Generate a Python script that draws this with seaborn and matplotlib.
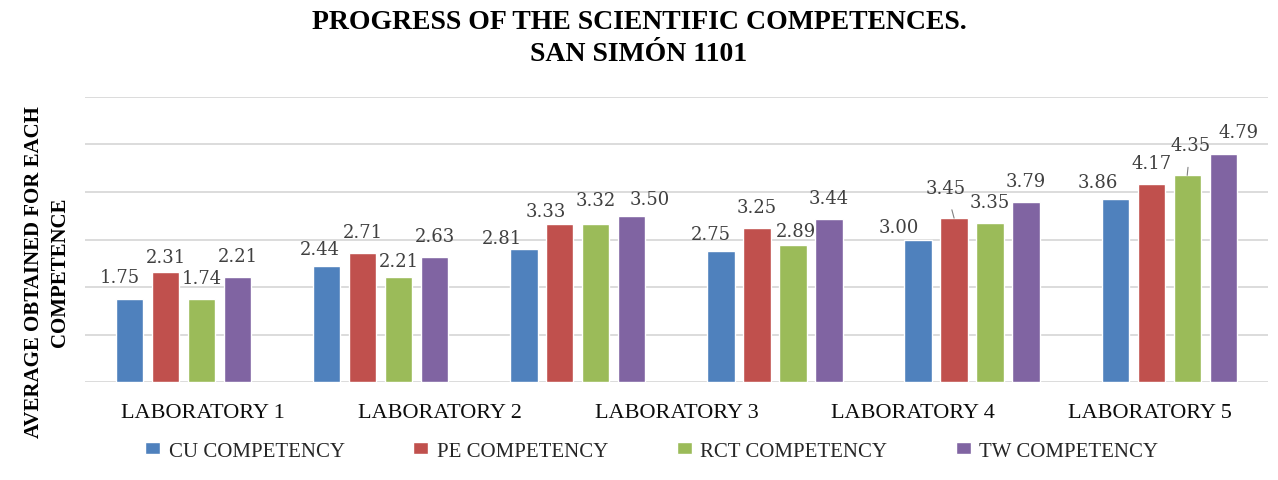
import numpy as np
import pandas as pd
import seaborn as sns
import matplotlib.pyplot as plt

# chart data
groups = [1, 2, 3, 4, 5, 6]
competencies = ['CU COMPETENCY', 'PE COMPETENCY', 'RCT COMPETENCY', 'TW COMPETENCY']
cu = [1.75, 2.44, 2.81, 2.75, 3.00, 3.86]
pe = [2.31, 2.71, 3.33, 3.25, 3.45, 4.17]
rct = [1.74, 2.21, 3.32, 2.89, 3.35, 4.35]
tw = [2.21, 2.63, 3.50, 3.44, 3.79, 4.79]
lab_labels = ['LABORATORY 1', 'LABORATORY 2', 'LABORATORY 3', 'LABORATORY 4', 'LABORATORY 5']

colors = ['#4F81BD', '#C0504D', '#9BBB59', '#8064A2']

df = pd.DataFrame({
    'group': groups * 4,
    'competency': np.repeat(competencies, len(groups)),
    'score': cu + pe + rct + tw,
})

sns.set_style('white')
plt.rcParams['font.family'] = ['Liberation Serif', 'DejaVu Serif']

fig = plt.figure(figsize=(12.78, 4.81), dpi=100)
ax = fig.add_axes([0.0665, 0.2037, 0.9255, 0.5926])

sns.barplot(data=df, x='group', y='score', hue='competency', order=groups,
            hue_order=competencies, palette=colors, saturation=1,
            width=0.73, gap=0.24, ax=ax)

ax.set_xlim(-0.5, len(groups) - 0.5)
ax.set_ylim(0, 6)
ax.set_yticks(range(7))
ax.tick_params(axis='y', length=0, labelleft=False)
ax.yaxis.grid(True, color='#D9D9D9', linewidth=1.3)
ax.set_axisbelow(True)
for s in ax.spines.values():
    s.set_visible(False)

# category labels spread evenly along the axis
n = len(lab_labels)
ticks = -0.5 + (np.arange(n) + 0.5) * len(groups) / n
ax.set_xticks(ticks, lab_labels)
ax.tick_params(axis='x', length=0, pad=15, labelsize=16, labelcolor='#0d0d0d')
ax.set_xlabel('')
ax.set_ylabel('')

# data labels (pixel offsets from bar top, like the dragged labels in the original)
nudge = {(0, 0): (-10, 22), (0, 1): (0, 15), (1, 0): (-7, 17), (1, 2): (0, 16),
         (2, 0): (-22, 11), (2, 1): (-14, 13), (2, 2): (0, 24), (2, 3): (18, 17),
         (3, 0): (-10, 17), (3, 2): (3, 14), (4, 0): (-19, 12), (4, 1): (-8, 30),
         (5, 0): (-17, 17), (5, 2): (3, 30), (5, 3): (15, 22)}
leader = [(4, 1), (5, 2)]
for si, cont in enumerate(ax.containers):
    for gi, bar in enumerate(cont):
        x = bar.get_x() + bar.get_width() / 2
        h = bar.get_height()
        dx, dy = nudge.get((gi, si), (0, 21))
        arrow = dict(arrowstyle='-', color='#808080', lw=0.8, shrinkA=7, shrinkB=0) if (gi, si) in leader else None
        ax.annotate(f'{h:.2f}', xy=(x, h), xytext=(dx, dy), textcoords='offset pixels',
                    ha='center', va='center', fontsize=13, family='DejaVu Serif',
                    color='#404040', arrowprops=arrow)

handles, labels = ax.get_legend_handles_labels()
ax.legend_.remove()
fig.legend(handles, labels, loc='center', bbox_to_anchor=(0.51, 0.06), ncol=4,
           frameon=False, fontsize=15, handlelength=0.72, handleheight=0.5,
           handletextpad=0.4, columnspacing=3.3, labelcolor='#262626')

fig.text(0.5, 0.92, 'PROGRESS OF THE SCIENTIFIC COMPETENCES.\nSAN SIMÓN 1101',
         ha='center', va='center', fontsize=20, fontweight='bold', linespacing=1.33,
         color='black')
fig.text(0.0368, 0.4345, 'AVERAGE OBTAINED FOR EACH\nCOMPETENCE', rotation=90,
         ha='center', va='center', fontsize=15, fontweight='bold', linespacing=1.45,
         multialignment='center', color='black')

fig.savefig('out.png', dpi=100)
